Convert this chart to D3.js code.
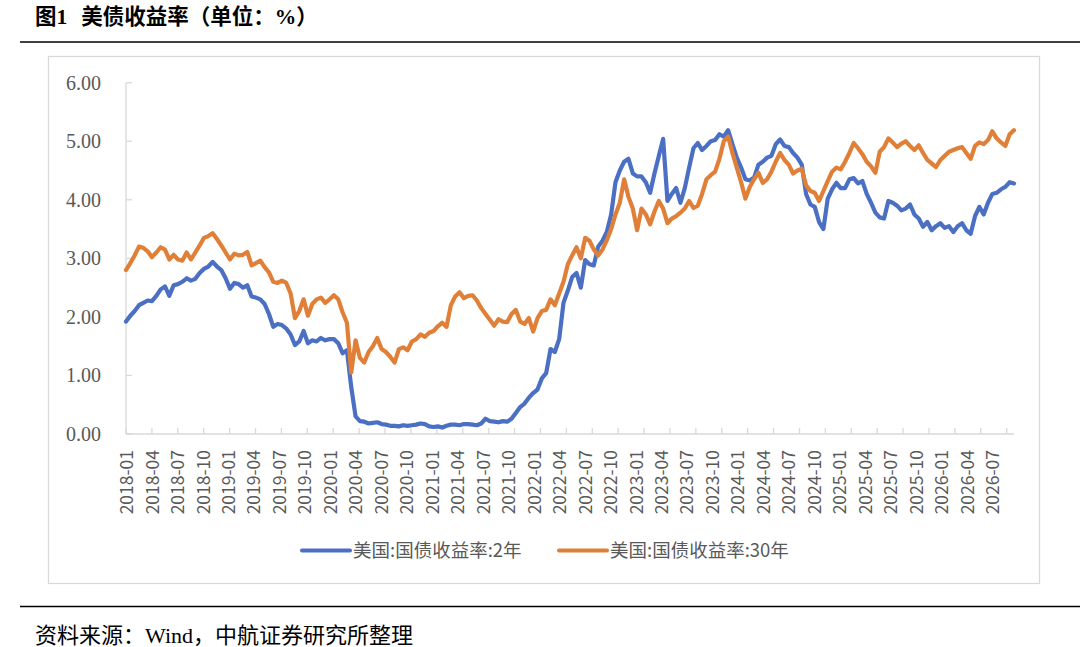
<!DOCTYPE html>
<html><head><meta charset="utf-8">
<script src="https://cdn.jsdelivr.net/npm/d3@7/dist/d3.min.js"></script>
<style>
html,body{margin:0;padding:0;background:#fff;}
svg{display:block;}
text{white-space:pre;}
</style></head>
<body>
<svg id="c" width="1080" height="647"></svg>
<script>
// ---- data ----
const tickLabels = ["2018-01","2018-04","2018-07","2018-10","2019-01","2019-04","2019-07","2019-10",
"2020-01","2020-04","2020-07","2020-10","2021-01","2021-04","2021-07","2021-10",
"2022-01","2022-04","2022-07","2022-10","2023-01","2023-04","2023-07","2023-10",
"2024-01","2024-04","2024-07","2024-10","2025-01","2025-04","2025-07","2025-10",
"2026-01","2026-04","2026-07"];
const yTicks = [0,1,2,3,4,5,6];
const seriesNames = ["美国:国债收益率:2年","美国:国债收益率:30年"];
// semi-monthly readings, 2018-01 onward
const us2y = [
1.92,2.02,2.10,2.20,2.24,2.28,2.27,2.36,2.47,2.52,2.36,2.54,2.56,2.60,2.66,2.62,2.65,2.75,2.82,2.86,
2.94,2.86,2.80,2.66,2.48,2.58,2.56,2.50,2.54,2.35,2.33,2.30,2.22,2.05,1.83,1.88,1.86,1.80,1.70,1.52,
1.58,1.76,1.55,1.60,1.58,1.64,1.60,1.62,1.62,1.55,1.38,1.43,0.80,0.30,0.22,0.21,0.18,0.19,0.20,0.17,
0.16,0.14,0.14,0.13,0.15,0.14,0.15,0.16,0.18,0.17,0.13,0.12,0.13,0.11,0.14,0.16,0.16,0.15,0.17,0.17,
0.16,0.15,0.18,0.26,0.22,0.21,0.20,0.22,0.21,0.26,0.36,0.46,0.52,0.62,0.70,0.76,0.95,1.04,1.45,1.40,
1.62,2.24,2.45,2.68,2.75,2.50,2.97,2.90,2.88,3.20,3.30,3.45,3.75,4.30,4.50,4.65,4.70,4.45,4.40,4.40,
4.30,4.12,4.45,4.75,5.04,3.98,4.10,4.20,3.95,4.20,4.55,4.88,4.97,4.85,4.92,5.00,5.02,5.12,5.08,5.19,
4.95,4.72,4.55,4.35,4.33,4.38,4.60,4.65,4.72,4.75,4.95,5.03,4.92,4.90,4.80,4.72,4.60,4.10,3.92,3.88,
3.62,3.50,4.02,4.18,4.29,4.20,4.20,4.35,4.37,4.28,4.32,4.10,3.95,3.78,3.70,3.68,3.98,3.95,3.90,3.82,
3.85,3.92,3.75,3.68,3.54,3.62,3.48,3.55,3.60,3.52,3.55,3.45,3.55,3.60,3.48,3.42,3.72,3.88,3.75,3.95,
4.10,4.12,4.18,4.22,4.30,4.28];
const us30y = [
2.80,2.92,3.05,3.20,3.18,3.12,3.02,3.10,3.19,3.15,2.98,3.06,2.98,2.96,3.10,2.98,3.10,3.22,3.35,3.38,
3.43,3.33,3.22,3.10,2.98,3.08,3.05,3.06,3.11,2.88,2.92,2.96,2.85,2.76,2.60,2.58,2.62,2.58,2.40,1.98,
2.10,2.30,2.02,2.22,2.30,2.33,2.24,2.30,2.37,2.30,2.08,1.90,1.05,1.60,1.30,1.22,1.40,1.50,1.64,1.45,
1.40,1.32,1.22,1.45,1.48,1.43,1.58,1.62,1.70,1.66,1.73,1.76,1.84,1.90,1.83,2.20,2.35,2.42,2.32,2.36,
2.37,2.28,2.15,2.05,1.95,1.85,1.96,1.92,1.91,2.05,2.12,1.92,1.88,1.98,1.75,1.98,2.10,2.12,2.30,2.20,
2.40,2.60,2.90,3.05,3.19,3.00,3.35,3.30,3.15,3.05,3.15,3.31,3.50,3.75,3.95,4.35,4.05,3.85,3.48,3.85,
3.75,3.58,3.80,3.98,3.85,3.60,3.68,3.72,3.78,3.85,3.98,3.86,3.90,4.10,4.35,4.42,4.48,4.70,5.00,5.08,
4.80,4.55,4.30,4.02,4.22,4.35,4.46,4.29,4.35,4.48,4.65,4.80,4.68,4.60,4.45,4.50,4.53,4.25,4.15,4.12,
3.98,4.15,4.32,4.48,4.55,4.52,4.65,4.80,4.97,4.88,4.78,4.65,4.57,4.46,4.82,4.90,5.05,4.98,4.90,4.96,
5.00,4.92,4.85,4.93,4.80,4.68,4.62,4.56,4.68,4.75,4.82,4.85,4.88,4.90,4.80,4.70,4.92,4.98,4.95,5.02,
5.17,5.05,4.98,4.92,5.12,5.19];
const colors = ["#4a6fc3","#e08038"];

// ---- drawing ----
const svg = d3.select("#c");
const serif = "'Liberation Serif','Noto Sans CJK SC',serif";
const sans = "'Noto Sans CJK SC','Noto Sans',sans-serif";
const grey = "#595959";

// title
const title = svg.append("text").attr("x",35).attr("y",24)
  .attr("font-family",serif).attr("font-weight","bold").attr("font-size",21.5).attr("fill","#000");
title.append("tspan").text("图1");
title.append("tspan").attr("dx",14).text("美债收益率（单位：%）");
svg.append("line").attr("x1",20).attr("x2",1080).attr("y1",42).attr("y2",42).attr("stroke","#000").attr("stroke-width",1.6);

// chart frame
svg.append("rect").attr("x",48.5).attr("y",56.5).attr("width",991).attr("height",527)
  .attr("fill","#fff").attr("stroke","#d9d9d9").attr("stroke-width",1.3);

const n = us2y.length;
const x = d3.scaleLinear().domain([0, n-1]).range([126, 1014]);
const xTick = d3.scaleLinear().domain([0, tickLabels.length-1]).range([126, 1006.7]);
const xLab = d3.scalePoint().domain(tickLabels).range([127, 993]);
const y = d3.scaleLinear().domain([0, 6]).range([434, 82.7]);

const axisColor = "#d9d9d9";
// y axis
svg.append("line").attr("x1",126).attr("x2",126).attr("y1",y(6)).attr("y2",y(0)).attr("stroke",axisColor).attr("stroke-width",1.3);
svg.selectAll(".yt").data(yTicks).enter().append("line")
  .attr("x1",126).attr("x2",132).attr("y1",d=>y(d)).attr("y2",d=>y(d)).attr("stroke",axisColor).attr("stroke-width",1.3);
svg.selectAll(".yl").data(yTicks).enter().append("text")
  .attr("x",101).attr("y",d=>y(d)).attr("dy","0.35em").attr("text-anchor","end")
  .attr("font-family",serif).attr("font-size",20).attr("fill",grey)
  .text(d=>d3.format(".2f")(d));
// x axis
svg.append("line").attr("x1",126).attr("x2",1014).attr("y1",y(0)).attr("y2",y(0)).attr("stroke",axisColor).attr("stroke-width",1.3);
svg.selectAll(".xt").data(tickLabels).enter().append("line")
  .attr("x1",(d,i)=>xTick(i)).attr("x2",(d,i)=>xTick(i)).attr("y1",y(0)-6).attr("y2",y(0)).attr("stroke",axisColor).attr("stroke-width",1.3);
svg.selectAll(".xl").data(tickLabels).enter().append("text")
  .attr("transform",d=>`translate(${xLab(d)},450) rotate(-90)`)
  .attr("text-anchor","end").attr("dy","0.35em")
  .attr("font-family",sans).attr("font-size",17.5).attr("fill",grey)
  .text(d=>d);

// lines
const line = d3.line().x((d,i)=>x(i)).y(d=>y(d)).curve(d3.curveLinear);
[us2y, us30y].forEach((s,k)=>{
  svg.append("path").datum(s).attr("d",line).attr("fill","none")
    .attr("stroke",colors[k]).attr("stroke-width",4.2).attr("stroke-linejoin","round").attr("stroke-linecap","round");
});

// legend
const legX = [302, 559];
seriesNames.forEach((nm,k)=>{
  svg.append("line").attr("x1",legX[k]).attr("x2",legX[k]+48).attr("y1",550.5).attr("y2",550.5)
    .attr("stroke",colors[k]).attr("stroke-width",4).attr("stroke-linecap","round");
  svg.append("text").attr("x",legX[k]+51).attr("y",550.5).attr("dy","0.35em")
    .attr("font-family",sans).attr("font-size",18.5).attr("fill",grey).text(nm);
});

// bottom rule + source
svg.append("line").attr("x1",20).attr("x2",1080).attr("y1",606.5).attr("y2",606.5).attr("stroke","#000").attr("stroke-width",1.6);
svg.append("text").attr("x",35).attr("y",635).attr("dy","0.35em")
  .attr("font-family",serif).attr("font-size",22).attr("fill","#000")
  .text("资料来源：Wind，中航证券研究所整理");
</script>
</body></html>
